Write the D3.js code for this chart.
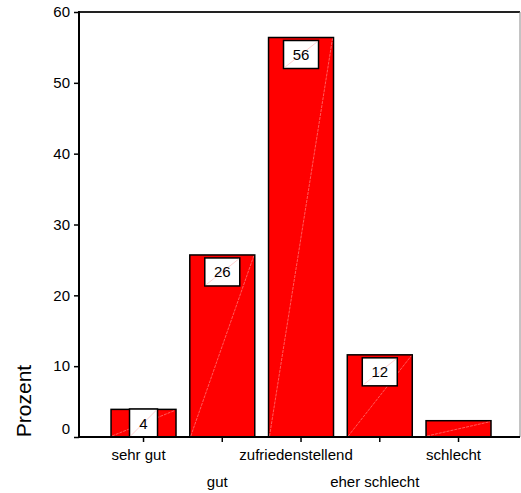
<!DOCTYPE html>
<html>
<head>
<meta charset="utf-8">
<script src="https://cdn.jsdelivr.net/npm/d3@7"></script>
<style>
  html, body { margin: 0; padding: 0; background: #fff; }
  svg { display: block; font-family: "Liberation Sans", Arial, sans-serif; }
</style>
</head>
<body>
<svg id="chart" width="521" height="493"></svg>
<script>
const categories = ["sehr gut", "gut", "zufriedenstellend", "eher schlecht", "schlecht"];
const values = [3.9, 25.7, 56.4, 11.6, 2.3];
const valueLabels = ["4", "26", "56", "12", ""];
const yTicks = [0, 10, 20, 30, 40, 50, 60];
const yTitle = "Prozent";

const svg = d3.select("#chart");
const mLeft = 79, mRight = 520, mTop = 12, mBottom = 437;

const x = d3.scaleBand().domain(categories).range([mLeft, mRight])
  .paddingInner(0.175).paddingOuter(0.3875).align(0.525);
const y = d3.scaleLinear().domain([0, 60]).range([mBottom, mTop]);

// frame: top and right
svg.append("line").attr("x1", mLeft).attr("x2", mRight).attr("y1", mTop).attr("y2", mTop)
  .attr("stroke", "#222").attr("stroke-width", 2);
svg.append("line").attr("x1", mRight).attr("x2", mRight).attr("y1", mTop).attr("y2", mBottom)
  .attr("stroke", "#888").attr("stroke-width", 1);

// bars
const g = svg.append("g");
categories.forEach((c, i) => {
  const bx = x(c), bw = x.bandwidth(), by = y(values[i]), bh = y(0) - y(values[i]);
  g.append("rect").attr("x", bx).attr("y", by).attr("width", bw).attr("height", bh)
    .attr("fill", "#ff0000").attr("stroke", "#000").attr("stroke-width", 1.5);
  g.append("line").attr("x1", bx + 1).attr("y1", by + bh - 1).attr("x2", bx + bw - 1).attr("y2", by + 1)
    .attr("stroke", "#ff9a9a").attr("stroke-width", 0.6).attr("stroke-dasharray", "3,1");
  const lab = valueLabels[i];
  if (lab) {
    const w = lab.length > 1 ? 35 : 28, h = 28;
    const cx = bx + bw / 2;
    const ty = Math.min(by + 3, y(0) - h);
    g.append("rect").attr("x", cx - w / 2).attr("y", ty).attr("width", w).attr("height", h)
      .attr("fill", "#fff").attr("stroke", "#000").attr("stroke-width", 1.5);
    g.append("line").attr("x1", cx - w / 2 + 1).attr("y1", ty + h - 1).attr("x2", cx + w / 2 - 1).attr("y2", ty + 1)
      .attr("stroke", "#ffb0b0").attr("stroke-width", 0.6);
    g.append("text").attr("x", cx).attr("y", ty + h / 2 + 5.5)
      .attr("text-anchor", "middle").attr("font-size", 15).attr("fill", "#000").text(lab);
  }
});

// y axis
const ya = d3.axisLeft(y).tickValues(yTicks).tickSize(5).tickPadding(4).tickFormat(d3.format("d"));
const yg = svg.append("g").attr("transform", `translate(${mLeft},0)`).call(ya);
yg.select(".domain").attr("stroke", "#000").attr("stroke-width", 2).attr("d", `M0,${mTop - 1}V${mBottom + 1}`);
yg.selectAll(".tick line").attr("stroke", "#000").attr("stroke-width", 1.5);
yg.selectAll(".tick text").attr("font-size", 15).attr("font-family", "Liberation Sans, Arial, sans-serif")
  .attr("fill", "#000").attr("dy", "0.32em")
  .attr("y", d => d === 0 ? -8 : 0);

// x axis
const xa = d3.axisBottom(x).tickSize(5).tickFormat("");
const xg = svg.append("g").attr("transform", `translate(0,${mBottom})`).call(xa);
xg.select(".domain").attr("stroke", "#000").attr("stroke-width", 2).attr("d", `M${mLeft - 1},0H${mRight}`);
xg.selectAll(".tick line").attr("stroke", "#000").attr("stroke-width", 1.5);

// category labels, staggered
categories.forEach((c, i) => {
  svg.append("text").attr("x", x(c) + x.bandwidth() / 2 - 5)
    .attr("y", i % 2 === 0 ? 460 : 487)
    .attr("text-anchor", "middle").attr("font-size", 15).attr("fill", "#000").text(c);
});

// y title
svg.append("text").attr("transform", `translate(31,401) rotate(-90)`)
  .attr("text-anchor", "middle").attr("font-size", 21).attr("fill", "#000").text(yTitle);
</script>
</body>
</html>
